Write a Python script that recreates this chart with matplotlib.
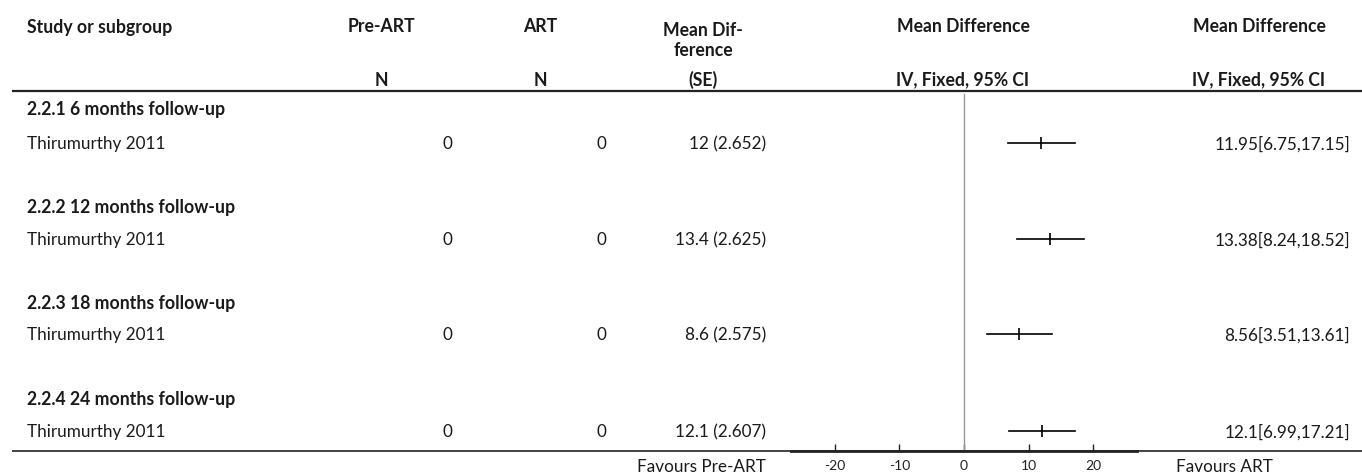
import matplotlib
matplotlib.use("Agg")
from matplotlib import pyplot as plt

plt.rcParams['font.family'] = ['Lato', 'DejaVu Sans']

groups = ['2.2.1 6 months follow-up', '2.2.2 12 months follow-up',
          '2.2.3 18 months follow-up', '2.2.4 24 months follow-up']
studies = ['Thirumurthy 2011', 'Thirumurthy 2011', 'Thirumurthy 2011', 'Thirumurthy 2011']
n_pre = [0, 0, 0, 0]
n_art = [0, 0, 0, 0]
md = [12, 13.4, 8.6, 12.1]
se = [2.652, 2.625, 2.575, 2.607]
est = [11.95, 13.38, 8.56, 12.1]
ci_lo = [6.75, 8.24, 3.51, 6.99]
ci_hi = [17.15, 18.52, 13.61, 17.21]
xticks = [-20, -10, 0, 10, 20]

W, H = 1362, 477
fig = plt.figure(figsize=(W / 100, H / 100), dpi=100)

# layout axes in pixel units for the table part
ax = fig.add_axes([0, 0, 1, 1])
ax.set_xlim(0, W)
ax.set_ylim(H, 0)
ax.axis('off')

fs = 12.3
txt = '#1a1a1a'
bold = dict(fontsize=fs + 0.4, fontweight='bold', color=txt, va='center')
norm = dict(fontsize=fs, color=txt, va='center')

# header
ax.text(27, 27, 'Study or subgroup', ha='left', **bold)
ax.text(381, 27, 'Pre-ART', ha='center', **bold)
ax.text(540, 27, 'ART', ha='center', **bold)
ax.text(703, 31, 'Mean Dif-', ha='center', **bold)
ax.text(703, 50, 'ference', ha='center', **bold)
ax.text(963, 27, 'Mean Difference', ha='center', **bold)
ax.text(1259, 27, 'Mean Difference', ha='center', **bold)
ax.text(381, 80, 'N', ha='center', **bold)
ax.text(540, 80, 'N', ha='center', **bold)
ax.text(703, 80, '(SE)', ha='center', **bold)
ax.text(963, 80, 'IV, Fixed, 95% CI', ha='center', **bold)
ax.text(1259, 80, 'IV, Fixed, 95% CI', ha='center', **bold)

ax.plot([12, W], [92, 92], color='#222222', lw=1.6, solid_capstyle='butt')
ax.plot([12, W], [452, 452], color='#222222', lw=1.2, solid_capstyle='butt')

group_y = [110, 208, 304, 400]
study_y = [144, 240, 335, 432]

for i in range(len(groups)):
    ax.text(27, group_y[i], groups[i], ha='left', **bold)
    y = study_y[i]
    ax.text(27, y, studies[i], ha='left', **norm)
    ax.text(452, y, str(n_pre[i]), ha='right', **norm)
    ax.text(606, y, str(n_art[i]), ha='right', **norm)
    ax.text(766, y, f"{md[i]:g} ({se[i]:.3f})", ha='right', **norm)
    ax.text(1350, y, f"{est[i]:g}[{ci_lo[i]:g},{ci_hi[i]:g}]", ha='right', **norm)

ax.text(766, 467, 'Favours Pre-ART', ha='right', **norm)
ax.text(1176, 467, 'Favours ART', ha='left', **norm)

# forest plot axes
left, right, top, bottom = 791, 1137, 92, 452
fx = fig.add_axes([left / W, (H - bottom) / H, (right - left) / W, (bottom - top) / H])
fx.set_xlim(-26.8, 26.8)
fx.set_ylim(bottom, top)
fx.patch.set_alpha(0)
for s in ['top', 'left', 'right']:
    fx.spines[s].set_visible(False)
fx.spines['bottom'].set_linewidth(2)
fx.spines['bottom'].set_color('#222222')
fx.set_yticks([])
fx.set_xticks(xticks)
fx.set_xticklabels([str(t) for t in xticks])
fx.tick_params(axis='x', direction='in', length=5, width=1, pad=6,
               labelsize=10, colors='#222222')

fx.plot([0, 0], [95, bottom], color='#999999', lw=1)
for i in range(len(est)):
    fx.plot([ci_lo[i], ci_hi[i]], [study_y[i], study_y[i]], color='black', lw=1.2)
    fx.plot([est[i]], [study_y[i]], marker='|', markersize=8, mew=1.2, color='black')

fig.savefig('out.png', dpi=100)
